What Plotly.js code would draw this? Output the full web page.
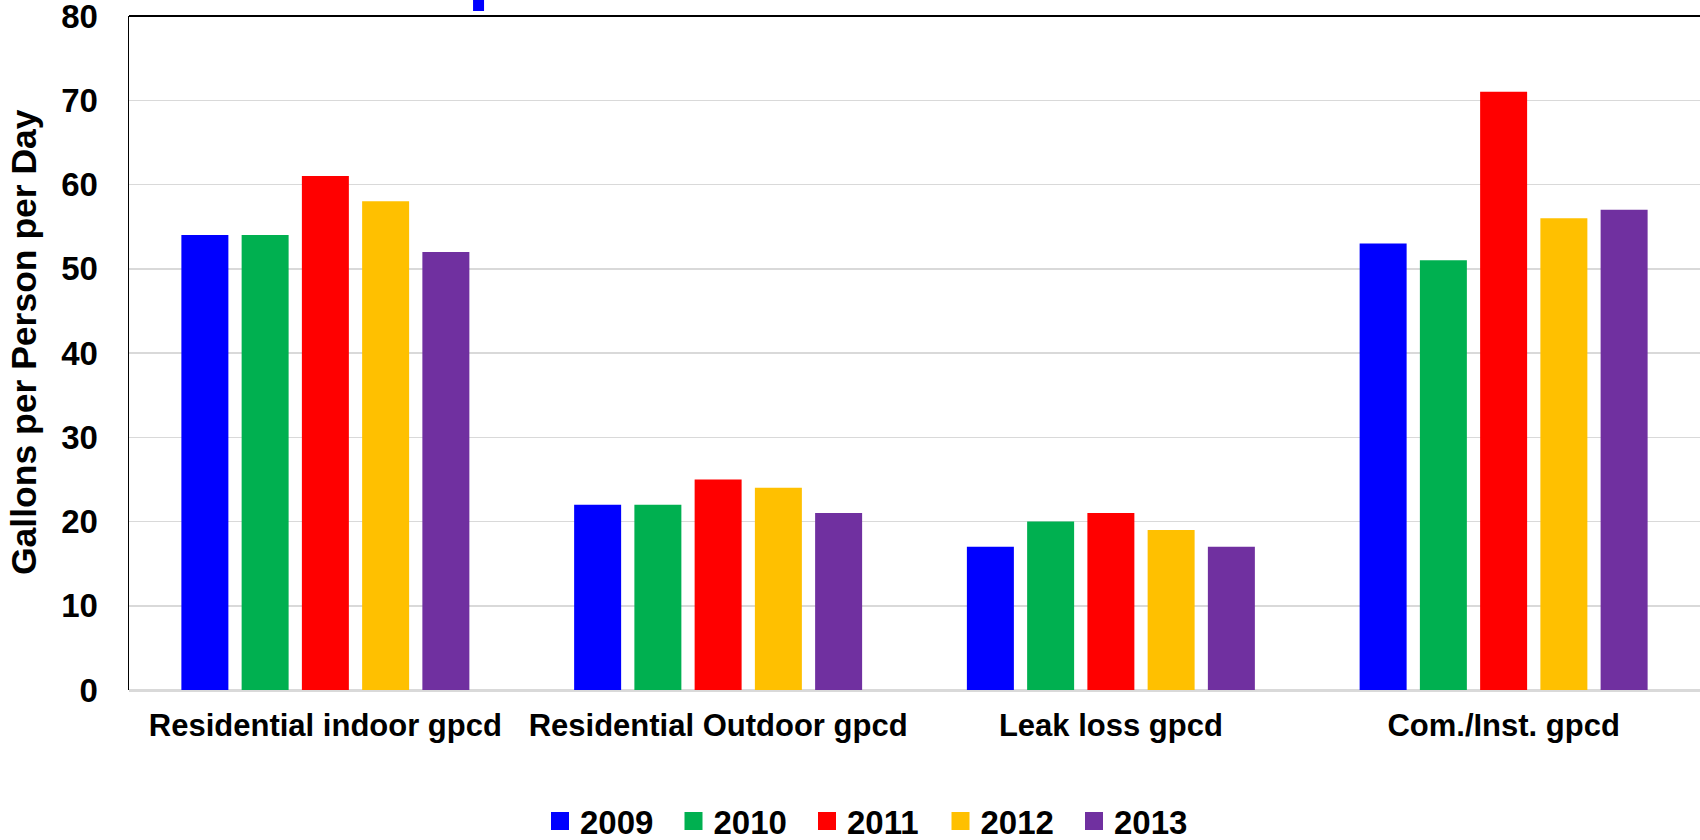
<!DOCTYPE html>
<html>
<head>
<meta charset="utf-8">
<script src="https://cdn.plot.ly/plotly-3.0.1.min.js"></script>
<style>
  html, body { margin: 0; padding: 0; background: #ffffff; }
  #chart { width: 1700px; height: 840px; }
</style>
</head>
<body>
<div id="chart"></div>
<script>
// Per-capita water use by category, one series per year
const categories = ['Residential indoor gpcd', 'Residential Outdoor gpcd', 'Leak loss gpcd', 'Com./Inst. gpcd'];
const years = ['2009', '2010', '2011', '2012', '2013'];
const gpcd2009 = [54, 22, 17, 53];
const gpcd2010 = [54, 22, 20, 51];
const gpcd2011 = [61, 25, 21, 71];
const gpcd2012 = [58, 24, 19, 56];
const gpcd2013 = [52, 21, 17, 57];
const yTickValues = [0, 10, 20, 30, 40, 50, 60, 70, 80];
const yTitle = 'Gallons per Person per Day';

const seriesValues = [gpcd2009, gpcd2010, gpcd2011, gpcd2012, gpcd2013];
const seriesColors = ['#0000FF', '#00B050', '#FF0000', '#FFC000', '#7030A0'];

const FONT = 'Liberation Sans, Arial, Helvetica, sans-serif';

const barTraces = years.map((yr, i) => ({
  type: 'bar',
  name: yr,
  x: categories,
  y: seriesValues[i],
  marker: { color: seriesColors[i], line: { width: 0 } },
  legendgroup: yr,
  showlegend: false,
  hoverinfo: 'x+y+name'
}));

// Legend entries with larger square swatches
const legendTraces = years.map((yr, i) => ({
  type: 'scatter',
  mode: 'markers',
  name: yr,
  x: [null],
  y: [null],
  marker: { symbol: 'square', size: 16, color: seriesColors[i], line: { width: 2, color: seriesColors[i] } },
  legendgroup: yr,
  showlegend: true,
  hoverinfo: 'skip'
}));

const layout = {
  width: 1700,
  height: 840,
  margin: { l: 129, r: 0, t: 16, b: 150, pad: 0 },
  paper_bgcolor: '#ffffff',
  plot_bgcolor: '#ffffff',
  barmode: 'group',
  bargap: 0.233,
  bargroupgap: 0.22,
  font: { family: FONT, color: '#000000', size: 30, weight: 700 },
  xaxis: {
    type: 'category',
    categoryorder: 'array',
    categoryarray: categories,
    showgrid: false,
    showline: false,
    zeroline: false,
    ticks: '',
    ticklabelstandoff: 14,
    tickfont: { family: FONT, size: 31, weight: 700, color: '#000000' },
    fixedrange: true
  },
  yaxis: {
    range: [0, 80],
    tickmode: 'array',
    tickvals: yTickValues,
    ticktext: yTickValues.map(String),
    ticklabeloverflow: 'allow',
    showgrid: true,
    gridcolor: '#D9D9D9',
    gridwidth: 1.5,
    zeroline: true,
    zerolinecolor: '#D9D9D9',
    zerolinewidth: 3,
    showline: true,
    linecolor: '#000000',
    linewidth: 1.5,
    ticks: '',
    ticklabelstandoff: 23,
    tickfont: { family: FONT, size: 33, weight: 700, color: '#000000' },
    fixedrange: true
  },
  annotations: [
    {
      text: yTitle,
      xref: 'paper', yref: 'paper',
      x: 0, y: (690 - 342) / 674,
      xanchor: 'center', yanchor: 'middle',
      xshift: -105,
      textangle: -90,
      showarrow: false,
      font: { family: FONT, size: 35.5, weight: 700, color: '#000000' }
    }
  ],
  showlegend: true,
  legend: {
    orientation: 'h',
    xref: 'container',
    yref: 'container',
    x: 874 / 1700,
    xanchor: 'center',
    y: 1 - 821 / 840,
    yanchor: 'middle',
    font: { family: FONT, size: 33, weight: 700, color: '#000000' },
    itemsizing: 'trace',
    entrywidth: 88.5,
    entrywidthmode: 'pixels',
    bgcolor: 'rgba(0,0,0,0)',
    borderwidth: 0
  },
  shapes: [
    // frame line along the top of the plotting area
    { type: 'line', xref: 'paper', yref: 'paper', x0: 0, x1: 1, y0: 1, y1: 1,
      line: { color: '#000000', width: 2 } },
    // small blue block clipped at the upper edge
    { type: 'rect', xref: 'paper', yref: 'paper', x0: 0.219, x1: 0.226, y0: 1.0074, y1: 1.03,
      fillcolor: '#0000FF', line: { width: 0 }, layer: 'above' }
  ]
};

Plotly.newPlot('chart', barTraces.concat(legendTraces), layout, { displayModeBar: false, staticPlot: true });
</script>
</body>
</html>
